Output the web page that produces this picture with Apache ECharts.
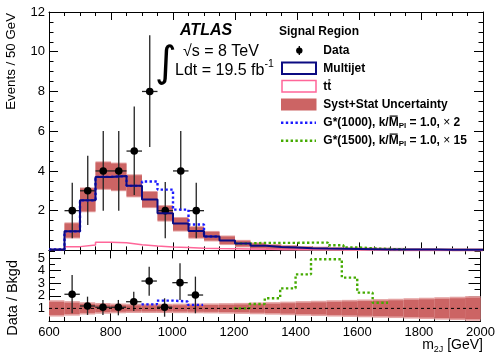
<!DOCTYPE html>
<html><head><meta charset="utf-8">
<script src="https://cdn.jsdelivr.net/npm/echarts@6/dist/echarts.min.js"></script>
<style>html,body{margin:0;padding:0;background:#fff}#c{width:498px;height:358px}</style>
</head><body><div id="c"></div>
<script>
// ---- data ----
const binLow = [600,650,700,750,800,850,900,950,1000,1050,1100,1150,1200,1250,1300,1350,1400,1450,1500,1550,1600,1650,1700,1750,1800,1850,1900,1950];
const binWidth = 50;
const multijet = [0.05,0.96,2.52,3.70,3.74,3.25,2.56,1.87,1.36,0.98,0.70,0.50,0.35,0.23,0.17,0.14,0.11,0.09,0.08,0.07,0.06,0.05,0.05,0.04,0.04,0.03,0.03,0.03];
const ttbar = [0.05,0.19,0.27,0.41,0.38,0.28,0.22,0.17,0.14,0.11,0.09,0.08,0.07,0.06,0.05,0.05,0.04,0.04,0.03,0.03,0.03,0.02,0.02,0.02,0.02,0.01,0.01,0.01];
const bandLo = [null,0.65,1.97,3.10,3.03,2.72,2.18,1.50,1.00,0.64,0.50,0.32,0.20,0.10,0.07,0.05,0.04,0.03,0.03,0.02,0.02,0.02,0.01,0.01,0.01,0.01,0.00,0.00];
const bandHi = [null,1.36,3.12,4.43,4.37,3.78,2.94,2.23,1.63,1.17,0.93,0.70,0.48,0.35,0.27,0.22,0.17,0.14,0.12,0.11,0.10,0.09,0.08,0.07,0.07,0.06,0.06,0.06];
const g1000Top = [0.05,0.96,2.52,3.70,3.74,3.25,3.47,3.06,2.05,1.30,0.70,null,null,null,null,null,null,null,null,null,null,null,null,null,null,null,null,null];
const g1500Top = [null,null,null,null,null,null,null,null,null,null,null,null,0.35,0.38,0.38,0.38,0.39,0.39,0.26,0.15,0.10,0.07,0.05,null,null,null,null,null];
const dataX = [675,725,775,825,875,925,975,1025,1075];
const dataY = [2,3,4,4,5,8,2,4,2];
const dataLo = [0.61,1.28,2.00,2.00,2.79,5.20,0.61,2.00,0.61];
const dataHi = [3.41,4.76,6.01,6.01,7.24,10.83,3.44,6.01,3.41];
const ratioY = [2.12,1.19,1.09,1.09,1.53,3.17,1.09,3.04,2.06];
const ratioLo = [0.61,0.48,0.48,0.45,0.79,2.01,0.34,1.67,0.61];
const ratioHi = [3.65,1.93,1.67,1.67,2.33,4.31,1.80,4.58,3.52];
const ratioBandLo = [0.48,0.55,0.64,0.70,0.74,0.76,0.76,0.76,0.75,0.74,0.73,0.71,0.69,0.66,0.63,0.59,0.55,0.52,0.48,0.45,0.42,0.39,0.36,0.32,0.28,0.24,0.20,0.15];
const ratioBandHi = [1.52,1.45,1.36,1.30,1.26,1.24,1.24,1.24,1.25,1.26,1.27,1.29,1.31,1.34,1.37,1.41,1.45,1.48,1.52,1.55,1.58,1.61,1.64,1.68,1.72,1.76,1.80,1.85];
const ratioG1000 = [null,null,null,null,null,null,1.32,1.62,1.55,1.28,null,null,null,null,null,null,null,null,null,null,null,null,null,null,null,null,null,null];
const ratioG1500 = [null,null,null,null,null,null,null,null,null,null,null,null,1.00,1.35,1.80,2.59,3.70,4.90,4.90,3.44,2.25,1.45,null,null,null,null,null,null];
const xTicks = {min:600, max:2000, interval:200};
const yTopTicks = {min:0, max:12, interval:2};
const yRatioTicks = {min:0, max:5.6, interval:1};

// ---- helpers ----
const FONT = 'Liberation Sans';
const C_NAVY = '#0b0b82', C_PINK = '#ff6699', C_BAND = '#cc6464', C_FRINGE = '#e4a2a2', C_BLUE = '#1a1aff', C_GREEN = '#44aa00';

function stepPoints(vals){
  const pts = []; let last = -1;
  vals.forEach((v,i)=>{ if(v!==null && v!==undefined){ pts.push([binLow[i], v]); last = i; } });
  if(last>=0) pts.push([binLow[last]+binWidth, vals[last]]);
  return pts;
}
function bandData(lo, hi){
  const d=[]; binLow.forEach((x,i)=>{ if(lo[i]!==null) d.push([x, x+binWidth, lo[i], hi[i]]); }); return d;
}
function bandSeries(lo, hi, xi, yi, fringe){
  return {type:'custom', xAxisIndex:xi, yAxisIndex:yi, data:bandData(lo,hi), silent:true,
    renderItem:(p,api)=>{ const a=api.coord([api.value(0),api.value(3)]), b=api.coord([api.value(1),api.value(2)]);
      const f=fringe||0;
      return {type:'group', children:[
        {type:'rect', shape:{x:a[0], y:a[1]-f, width:b[0]-a[0], height:b[1]-a[1]+2*f}, style:{fill:C_FRINGE}},
        {type:'rect', shape:{x:a[0], y:a[1], width:b[0]-a[0], height:b[1]-a[1]}, style:{fill:C_BAND}}]}; }};
}
function lineSeries(vals, xi, yi, color, width, type){
  return {type:'line', xAxisIndex:xi, yAxisIndex:yi, data:stepPoints(vals), step:'end', symbol:'none', silent:true,
    lineStyle:{color:color, width:width, type:type||'solid', cap:'butt'}};
}
function pointSeries(xs, ys, lo, hi, xi, yi){
  return {type:'custom', xAxisIndex:xi, yAxisIndex:yi, silent:true,
    data: xs.map((x,i)=>[x, ys[i], lo[i], hi[i]]),
    renderItem:(p,api)=>{ const x=api.value(0), y=api.value(1);
      const c=api.coord([x,y]), l=api.coord([x,api.value(2)]), h=api.coord([x,api.value(3)]);
      const xl=api.coord([x-binWidth/2,y]), xr=api.coord([x+binWidth/2,y]);
      const ls={stroke:'#222', lineWidth:1.3};
      return {type:'group', children:[
        {type:'line', shape:{x1:c[0],y1:h[1],x2:c[0],y2:l[1]}, style:ls},
        {type:'line', shape:{x1:xl[0],y1:c[1],x2:xr[0],y2:c[1]}, style:ls},
        {type:'circle', shape:{cx:c[0],cy:c[1],r:3.8}, style:{fill:'#000'}}]}; }};
}
const mctx = document.createElement('canvas').getContext('2d');
function tw(t,size,weight,style){ mctx.font=(style||'normal')+' '+(weight||'normal')+' '+size+'px "'+FONT+'"'; return mctx.measureText(t).width; }
function run(x,y,pieces,align){
  const w = pieces.map(p=>tw(p.t,p.size,p.weight,p.style)); const tot=w.reduce((a,b)=>a+b,0);
  let cx = align==='right'? x-tot : x; const els=[];
  pieces.forEach((p,i)=>{
    els.push({type:'text', x:cx, y:y+(p.dy||0), silent:true, style:{text:p.t, fontSize:p.size, fontWeight:p.weight||'normal', fontStyle:p.style||'normal', fontFamily:FONT, fill:'#000', align:'left', verticalAlign:'middle'}});
    if(p.overline){ const oy=y-p.size*0.55; els.push({type:'line', silent:true, shape:{x1:cx+1,y1:oy,x2:cx+w[i]-1,y2:oy}, style:{stroke:'#000', lineWidth:1.2}}); }
    cx+=w[i]; });
  return els;
}
function xAx(grid, pos, labels, tl){
  return {type:'value', gridIndex:grid, position:pos, min:xTicks.min, max:xTicks.max, interval:xTicks.interval,
    axisLine:{show:true,onZero:false,lineStyle:{color:'#000',width:1}},
    axisTick:{show:true,inside:true,length:tl,lineStyle:{color:'#000',width:1}},
    minorTick:{show:true,splitNumber:4,length:tl/2,lineStyle:{color:'#000',width:1}},
    splitLine:{show:false}, minorSplitLine:{show:false},
    axisLabel:{show:labels, fontSize:13, fontFamily:FONT, color:'#000', margin:5, formatter:v=>String(v)}};
}
function yAx(grid, pos, labels, t, tl, split, extra){
  return {type:'value', gridIndex:grid, position:pos, min:t.min, max:t.max, interval:t.interval,
    axisLine:{show:true,onZero:false,lineStyle:{color:'#000',width:1}},
    axisTick:{show:true,inside:true,length:tl,lineStyle:{color:'#000',width:1}},
    minorTick:{show:true,splitNumber:split,length:tl/2,lineStyle:{color:'#000',width:1}},
    splitLine:{show:false}, minorSplitLine:{show:false},
    axisLabel:Object.assign({show:labels, fontSize:13, fontFamily:FONT, color:'#000', margin:4, formatter:v=>String(v)}, extra||{})};
}

const graphics = [];
// y titles
graphics.push({type:'text', x:11.5, y:13, rotation:Math.PI/2, silent:true, style:{text:'Events / 50 GeV', fontSize:13.3, fontFamily:FONT, fill:'#000', align:'right', verticalAlign:'middle'}});
graphics.push({type:'text', x:12.5, y:260, rotation:Math.PI/2, silent:true, style:{text:'Data / Bkgd', fontSize:14.5, fontFamily:FONT, fill:'#000', align:'right', verticalAlign:'middle'}});
// x title
graphics.push(...run(483, 345.5, [{t:'m',size:14},{t:'2J',size:9,dy:4},{t:' [GeV]',size:14}], 'right'));
// ATLAS label
graphics.push(...run(180, 31, [{t:'ATLAS',size:16,weight:'bold',style:'italic'}]));
graphics.push({type:'text', x:166, y:65, silent:true, style:{text:'\u222B', fontSize:42, fontFamily:'DejaVu Sans', fill:'#000', align:'center', verticalAlign:'middle'}});
graphics.push(...run(183, 51.5, [{t:'\u221As = 8 TeV',size:16}]));
graphics.push(...run(175, 71, [{t:'Ldt = 19.5 fb',size:16},{t:'-1',size:10.5,dy:-7}]));
// legend
graphics.push(...run(279, 32, [{t:'Signal Region',size:12,weight:'bold'}]));
const LX = 323.3;
graphics.push({type:'line', silent:true, shape:{x1:299.3,y1:46,x2:299.3,y2:55}, style:{stroke:'#000',lineWidth:1.3}});
graphics.push({type:'circle', silent:true, shape:{cx:299.3,cy:50.6,r:3.2}, style:{fill:'#000'}});
graphics.push(...run(LX, 50.6, [{t:'Data',size:12,weight:'bold'}]));
graphics.push({type:'rect', silent:true, shape:{x:282,y:62.5,width:34,height:11.5}, style:{fill:'#fff',stroke:C_NAVY,lineWidth:2}});
graphics.push(...run(LX, 68.3, [{t:'Multijet',size:12,weight:'bold'}]));
graphics.push({type:'rect', silent:true, shape:{x:282,y:80.5,width:34,height:11.5}, style:{fill:'#fff',stroke:C_PINK,lineWidth:1.5}});
graphics.push(...run(LX, 86.5, [{t:'t',size:12,weight:'bold'},{t:'t',size:12,weight:'bold',overline:true}]));
graphics.push({type:'rect', silent:true, shape:{x:281,y:98.5,width:35.5,height:12}, style:{fill:C_BAND}});
graphics.push(...run(LX, 104.7, [{t:'Syst+Stat Uncertainty',size:12,weight:'bold'}]));
graphics.push({type:'line', silent:true, shape:{x1:281,y1:122.7,x2:316,y2:122.7}, style:{stroke:C_BLUE,lineWidth:2.4,lineDash:[2.4,2.4]}});
graphics.push(...run(LX, 122.7, [{t:'G*(1000), k/',size:12,weight:'bold'},{t:'M',size:12,weight:'bold',overline:true},{t:'Pl',size:8,weight:'bold',dy:3.5},{t:' = 1.0, ',size:12,weight:'bold'},{t:'\u00D7',size:12},{t:' 2',size:12,weight:'bold'}]));
graphics.push({type:'line', silent:true, shape:{x1:281,y1:140.7,x2:316,y2:140.7}, style:{stroke:C_GREEN,lineWidth:2.4,lineDash:[2.4,2.4]}});
graphics.push(...run(LX, 140.7, [{t:'G*(1500), k/',size:12,weight:'bold'},{t:'M',size:12,weight:'bold',overline:true},{t:'Pl',size:8,weight:'bold',dy:3.5},{t:' = 1.0, ',size:12,weight:'bold'},{t:'\u00D7',size:12},{t:' 15',size:12,weight:'bold'}]));

const chart = echarts.init(document.getElementById('c'), null, {renderer:'canvas'});
chart.setOption({
  animation:false,
  backgroundColor:'#fff',
  grid:[{left:49, right:15, top:12, height:238.4}, {left:49, right:15, top:250.4, height:70.6}],
  xAxis:[xAx(0,'bottom',false,8), xAx(0,'top',false,8), xAx(1,'bottom',true,8), xAx(1,'top',false,8)],
  yAxis:[yAx(0,'left',true,yTopTicks,9,4,{showMinLabel:false}), yAx(0,'right',false,yTopTicks,9,4),
         yAx(1,'left',true,yRatioTicks,12,2,{showMaxLabel:false}), yAx(1,'right',false,yRatioTicks,12,2)],
  series:[
    bandSeries(bandLo, bandHi, 0, 0, 1),
    lineSeries(ttbar, 0, 0, C_PINK, 1.5),
    lineSeries(g1000Top, 0, 0, C_BLUE, 2.4, [2.4,2.4]),
    lineSeries(g1500Top, 0, 0, C_GREEN, 2.4, [2.4,2.4]),
    lineSeries(multijet, 0, 0, C_NAVY, 2),
    pointSeries(dataX, dataY, dataLo, dataHi, 0, 0),
    lineSeries(ratioG1500, 2, 2, C_GREEN, 2.4, [2.4,2.4]),
    bandSeries(ratioBandLo, ratioBandHi, 2, 2, 1.6),
    {type:'line', xAxisIndex:2, yAxisIndex:2, data:[[600,1],[2000,1]], symbol:'none', silent:true, lineStyle:{color:'#000', width:1, type:[3,3]}},
    lineSeries(ratioG1000, 2, 2, C_BLUE, 2.4, [2.4,2.4]),
    pointSeries(dataX, ratioY, ratioLo, ratioHi, 2, 2)
  ],
  graphic:{elements:graphics}
});
</script></body></html>
